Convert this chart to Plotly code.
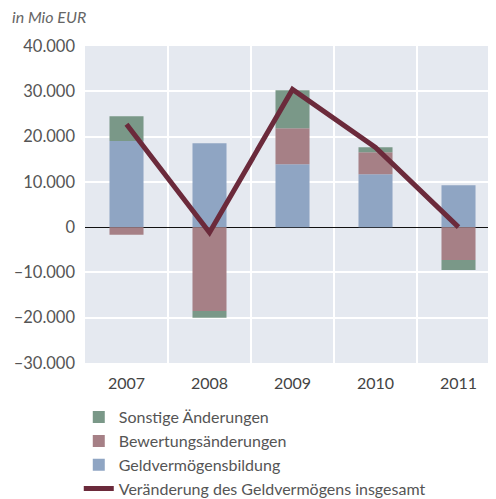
import plotly.graph_objects as go

years = ["2007", "2008", "2009", "2010", "2011"]
geldvermoegensbildung = [19000, 18550, 13900, 11700, 9270]
bewertungsaenderungen = [-1700, -18540, 7950, 4860, -7280]
sonstige_aenderungen = [5500, -1460, 8400, 1100, -2200]
veraenderung_gesamt = [22700, -1200, 30400, 17600, 0]

y_tick_vals = [-30000, -20000, -10000, 0, 10000, 20000, 30000, 40000]
y_tick_text = ["\u201330.000", "\u201320.000", "\u201310.000", "0", "10.000", "20.000", "30.000", "40.000"]

xpos = list(range(len(years)))
FONT = "Lato, 'Open Sans', sans-serif"

fig = go.Figure()
fig.add_trace(go.Bar(x=xpos, y=geldvermoegensbildung, name="Geldvermögensbildung",
                     marker=dict(color="#8fa5c3", line=dict(width=0)), width=0.41, legendrank=3))
fig.add_trace(go.Bar(x=xpos, y=bewertungsaenderungen, name="Bewertungsänderungen",
                     marker=dict(color="#a68086", line=dict(width=0)), width=0.41, legendrank=2))
fig.add_trace(go.Bar(x=xpos, y=sonstige_aenderungen, name="Sonstige Änderungen",
                     marker=dict(color="#7a9888", line=dict(width=0)), width=0.41, legendrank=1))
fig.add_trace(go.Scatter(x=xpos, y=veraenderung_gesamt, name="Veränderung des Geldvermögens insgesamt",
                         mode="lines", line=dict(color="#6b2a3b", width=5), legendrank=4))

fig.update_layout(
    width=496, height=499,
    barmode="relative",
    plot_bgcolor="#e5e9f0",
    paper_bgcolor="white",
    margin=dict(l=77, r=4, t=38, b=144, autoexpand=False),
    font=dict(family=FONT, color="#555555", size=16),
    showlegend=True,
    legend=dict(orientation="v", x=-0.015, xanchor="left", yref="container", y=0.214, yanchor="top",
                font=dict(size=16, color="#555555"), tracegroupgap=0, itemwidth=30,
                bgcolor="rgba(0,0,0,0)"),
    annotations=[dict(text="<i>in Mio EUR</i>", xref="paper", yref="paper", x=-0.181, y=1.0,
                      yshift=30, xanchor="left", yanchor="middle", showarrow=False,
                      font=dict(size=16, color="#666666", family=FONT))],
)
fig.update_xaxes(
    tickmode="array", tickvals=xpos, ticktext=years, range=[-0.5, 4.5],
    showgrid=False, zeroline=False, ticks="", ticklen=0,
    tickfont=dict(size=16, color="#444444"), ticklabelstandoff=9,
    minor=dict(tickmode="linear", tick0=0.5, dtick=1, showgrid=True, gridcolor="white", gridwidth=2, ticks=""),
)
fig.update_yaxes(
    range=[-30000, 40000], tickmode="array", tickvals=y_tick_vals, ticktext=y_tick_text,
    showgrid=True, gridcolor="white", gridwidth=2,
    zeroline=True, zerolinecolor="#111111", zerolinewidth=1.2,
    tickfont=dict(size=16.5, color="#555555"), ticks="", ticklabelstandoff=9,
)

fig.write_html("out.html")
